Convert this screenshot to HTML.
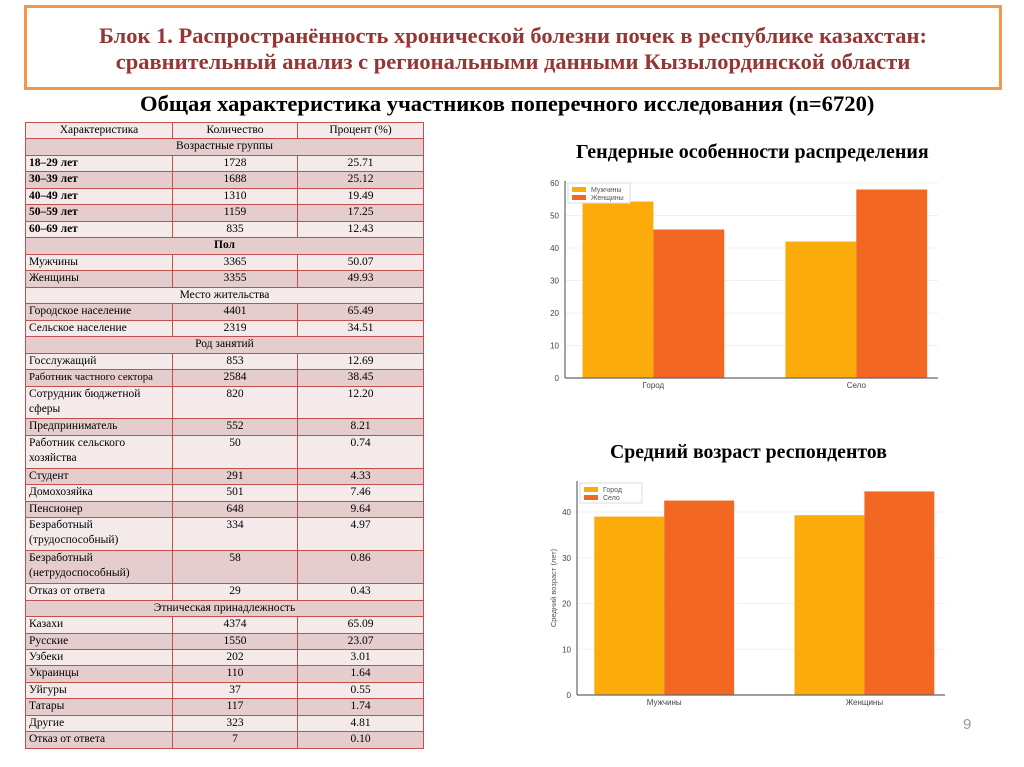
<!DOCTYPE html>
<html><head><meta charset="utf-8">
<style>
body{margin:0;width:1024px;height:767px;background:#fff;position:relative;overflow:hidden;font-family:"Liberation Serif","Noto Serif CJK SC",serif;}
#titlebox{position:absolute;left:24px;top:5px;width:972px;height:79px;border:3px solid #f79646;box-sizing:content-box;}
#title{position:absolute;left:0;top:15px;width:100%;text-align:center;color:#943634;font-weight:bold;font-size:22.5px;line-height:26px;}
.h2{position:absolute;font-weight:bold;color:#000;white-space:nowrap;}
table{position:absolute;left:25px;top:122px;width:398px;border-collapse:collapse;font-size:11.5px;table-layout:fixed;}
tr{height:16.47px}
tr.t{height:32.94px}
td{border:1.5px solid #c0504d;padding:0 3px;line-height:15px;vertical-align:top;}
td.c{text-align:center}
tr.d td{background:#e6cdcd}
tr.l td{background:#f4eaea}
td.b{font-weight:bold}
svg{position:absolute;left:0;top:0}
</style></head><body>
<div id="titlebox"><div id="title">Блок 1. Распространённость хронической болезни почек в республике казахстан:<br>сравнительный анализ с региональными данными Кызылординской области</div></div>
<div class="h2" style="left:140px;top:91px;font-size:22.6px">Общая характеристика участников поперечного исследования (n=6720)</div>
<div class="h2" style="left:576px;top:141px;font-size:20px">Гендерные особенности распределения</div>
<div class="h2" style="left:610px;top:441px;font-size:19.8px">Средний возраст респондентов</div>
<div style="position:absolute;left:963px;top:716px;font-size:15px;color:#999;font-family:'Liberation Sans',sans-serif">9</div>

<table>
<colgroup><col style="width:147px"><col style="width:125px"><col style="width:126px"></colgroup>
<tr class="l"><td class="c">Характеристика</td><td class="c">Количество</td><td class="c">Процент (%)</td></tr>
<tr class="d"><td class="c" colspan="3">Возрастные группы</td></tr>
<tr class="l"><td class="b">18–29 лет</td><td class="c">1728</td><td class="c">25.71</td></tr>
<tr class="d"><td class="b">30–39 лет</td><td class="c">1688</td><td class="c">25.12</td></tr>
<tr class="l"><td class="b">40–49 лет</td><td class="c">1310</td><td class="c">19.49</td></tr>
<tr class="d"><td class="b">50–59 лет</td><td class="c">1159</td><td class="c">17.25</td></tr>
<tr class="l"><td class="b">60–69 лет</td><td class="c">835</td><td class="c">12.43</td></tr>
<tr class="d"><td class="c b" colspan="3">Пол</td></tr>
<tr class="l"><td>Мужчины</td><td class="c">3365</td><td class="c">50.07</td></tr>
<tr class="d"><td>Женщины</td><td class="c">3355</td><td class="c">49.93</td></tr>
<tr class="l"><td class="c" colspan="3">Место жительства</td></tr>
<tr class="d"><td>Городское население</td><td class="c">4401</td><td class="c">65.49</td></tr>
<tr class="l"><td>Сельское население</td><td class="c">2319</td><td class="c">34.51</td></tr>
<tr class="d"><td class="c" colspan="3">Род занятий</td></tr>
<tr class="l"><td>Госслужащий</td><td class="c">853</td><td class="c">12.69</td></tr>
<tr class="d"><td style="font-size:10.8px;white-space:nowrap">Работник частного сектора</td><td class="c">2584</td><td class="c">38.45</td></tr>
<tr class="l t"><td>Сотрудник бюджетной<br>сферы</td><td class="c">820</td><td class="c">12.20</td></tr>
<tr class="d"><td>Предприниматель</td><td class="c">552</td><td class="c">8.21</td></tr>
<tr class="l t"><td>Работник сельского<br>хозяйства</td><td class="c">50</td><td class="c">0.74</td></tr>
<tr class="d"><td>Студент</td><td class="c">291</td><td class="c">4.33</td></tr>
<tr class="l"><td>Домохозяйка</td><td class="c">501</td><td class="c">7.46</td></tr>
<tr class="d"><td>Пенсионер</td><td class="c">648</td><td class="c">9.64</td></tr>
<tr class="l t"><td>Безработный<br>(трудоспособный)</td><td class="c">334</td><td class="c">4.97</td></tr>
<tr class="d t"><td>Безработный<br>(нетрудоспособный)</td><td class="c">58</td><td class="c">0.86</td></tr>
<tr class="l"><td>Отказ от ответа</td><td class="c">29</td><td class="c">0.43</td></tr>
<tr class="d"><td class="c" colspan="3">Этническая принадлежность</td></tr>
<tr class="l"><td>Казахи</td><td class="c">4374</td><td class="c">65.09</td></tr>
<tr class="d"><td>Русские</td><td class="c">1550</td><td class="c">23.07</td></tr>
<tr class="l"><td>Узбеки</td><td class="c">202</td><td class="c">3.01</td></tr>
<tr class="d"><td>Украинцы</td><td class="c">110</td><td class="c">1.64</td></tr>
<tr class="l"><td>Уйгуры</td><td class="c">37</td><td class="c">0.55</td></tr>
<tr class="d"><td>Татары</td><td class="c">117</td><td class="c">1.74</td></tr>
<tr class="l"><td>Другие</td><td class="c">323</td><td class="c">4.81</td></tr>
<tr class="d"><td>Отказ от ответа</td><td class="c">7</td><td class="c">0.10</td></tr>
</table>

<svg id="charts" width="1024" height="767" xmlns="http://www.w3.org/2000/svg" font-family="Liberation Sans, sans-serif"></svg>
<script>
const genderCategories=["Город","Село"];
const genderSeriesNames=["Мужчины","Женщины"];
const genderMen=[54.3,42.0];
const genderWomen=[45.7,58.0];
const genderTicks=[0,10,20,30,40,50,60];

const ageCategories=["Мужчины","Женщины"];
const ageSeriesNames=["Город","Село"];
const ageCity=[39.0,39.3];
const ageVillage=[42.5,44.5];
const ageTicks=[0,10,20,30,40];

const C1="#fbab0a",C2="#f26722";
const svg=document.getElementById('charts');
const NS="http://www.w3.org/2000/svg";
function mk(tag,attrs,parent){const e=document.createElementNS(NS,tag);for(const k in attrs)e.setAttribute(k,attrs[k]);(parent||svg).appendChild(e);return e;}

function drawChart(cfg){
  const g=mk('g',{});
  
  
  const y=v=>cfg.y0-v/cfg.ymax*(cfg.y0-cfg.ytop);
  const L=cfg.x1-cfg.x0, bw=L*0.19;
  cfg.ticks.forEach(t=>{
    const gl=mk('line',{x1:cfg.x0,x2:cfg.x1,y1:y(t),y2:y(t),stroke:'#f0f0f0','stroke-width':1},g);
    
    
    const tl=mk('text',{x:cfg.x0-6,y:y(t)+3,'font-size':8,'text-anchor':'end',fill:'#444'},g);
    tl.textContent=t;
    
    
  });
  cfg.cats.forEach((c,i)=>{
    const cx=cfg.x0+L*(0.237+i*0.544);
    [cfg.s1,cfg.s2].forEach((s,j)=>{
      const r=mk('rect',{x:cx-bw+j*bw,y:y(s[i]),width:bw,height:cfg.y0-y(s[i]),fill:j?C2:C1},g);
      
      
    });
    const xl=mk('text',{x:cx,y:cfg.y0+10,'font-size':8,'text-anchor':'middle',fill:'#444'},g);
    xl.textContent=c;
    
    
  });
  const ax=mk('line',{x1:cfg.x0,x2:cfg.x1,y1:cfg.y0,y2:cfg.y0,stroke:'#666','stroke-width':1.2},g);
  
  
  const ay=mk('line',{x1:cfg.x0,x2:cfg.x0,y1:cfg.y0,y2:cfg.axtop,stroke:'#666','stroke-width':1.2},g);
  
  
  const lg=mk('g',{},g);
  
  
  const ly=cfg.axtop+2;
  mk('rect',{x:cfg.x0+3,y:ly,width:62,height:20,fill:'#fff',stroke:'#ddd'},lg);
  cfg.snames.forEach((s,j)=>{
    mk('rect',{x:cfg.x0+7,y:ly+4+j*8,width:14,height:5,fill:j?C2:C1},lg);
    const t=mk('text',{x:cfg.x0+26,y:ly+9+j*8,'font-size':7,fill:'#555'},lg);
    t.textContent=s;
    
    
  });
  if(cfg.ytitle){
    const t=mk('text',{x:0,y:0,'font-size':7.5,'text-anchor':'middle',fill:'#555',transform:`translate(${cfg.x0-21},${(cfg.y0+cfg.axtop)/2}) rotate(-90)`},g);
    t.textContent=cfg.ytitle;
    
    
  }
}
drawChart({name:'gender-chart',cats:genderCategories,snames:genderSeriesNames,s1:genderMen,s2:genderWomen,ticks:genderTicks,ymax:60,x0:565,x1:938,y0:378,ytop:183,axtop:181});
drawChart({name:'age-chart',cats:ageCategories,snames:ageSeriesNames,s1:ageCity,s2:ageVillage,ticks:ageTicks,ymax:40,x0:577,x1:945,y0:695,ytop:512,axtop:481,ytitle:'Средний возраст (лет)'});
</script>
</body></html>
